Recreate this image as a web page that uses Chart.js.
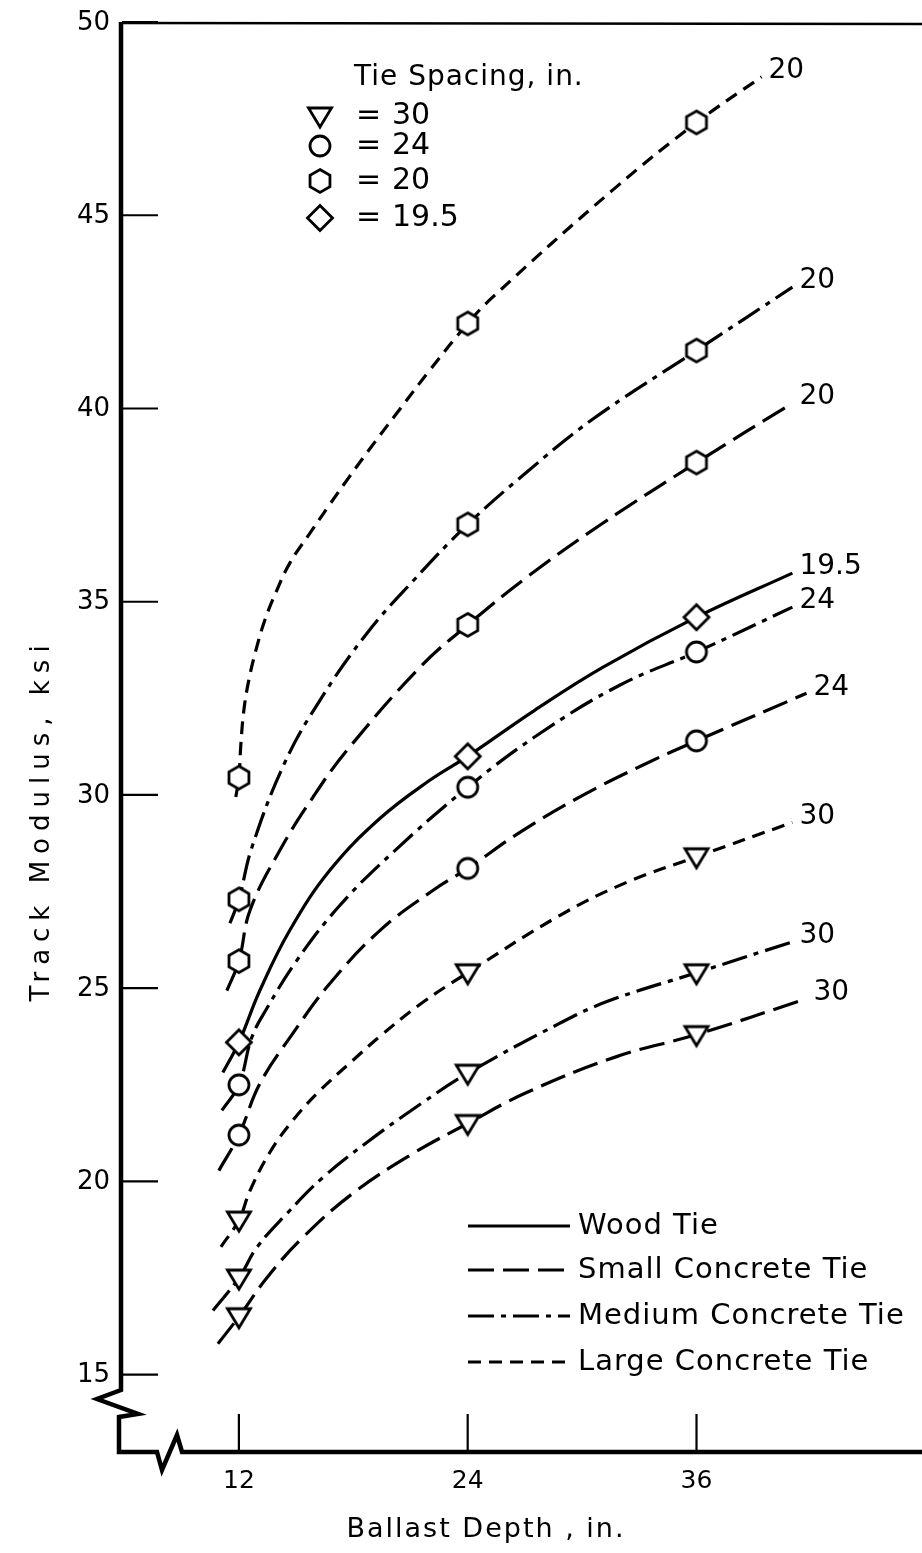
<!DOCTYPE html>
<html>
<head>
<meta charset="utf-8">
<title>Track Modulus vs Ballast Depth</title>
<script src="https://cdn.jsdelivr.net/npm/chart.js@4.4.0/dist/chart.umd.min.js"></script>
<style>
  html, body { margin: 0; padding: 0; background: #fff; }
  #chart { display: block; }
</style>
</head>
<body>
<canvas id="chart" width="922" height="1553"></canvas>
<script>
const depthTicks = [12, 24, 36];
const modulusTicks = [15, 20, 25, 30, 35, 40, 45, 50];

// plotted test points at 12, 24 and 36 in. of ballast (ksi)
const large20Points = [30.45, 42.2, 47.4];
const medium20Points = [27.3, 37.0, 41.5];
const small20Points = [25.7, 34.4, 38.6];
const wood195Points = [23.6, 31.0, 34.6];
const medium24Points = [22.5, 30.2, 33.7];
const small24Points = [21.2, 28.1, 31.4];
const large30Points = [19.0, 25.4, 28.4];
const medium30Points = [17.5, 22.8, 25.4];
const small30Points = [16.5, 21.5, 23.8];

// faired curves: [depth in., modulus ksi]
const large20Curve = [[11.84, 29.95], [12, 30.45], [12.1, 31.28], [12.26, 32.19], [12.52, 32.97], [12.89, 33.74], [13.36, 34.52], [13.94, 35.24], [14.67, 36.0], [15.72, 36.77], [16.77, 37.52], [17.82, 38.25], [19.13, 39.13], [20.44, 39.98], [22.01, 40.99], [24, 42.2], [25.31, 42.88], [31.6, 45.65], [36, 47.4], [39.41, 48.58]];
const medium20Curve = [[11.53, 26.68], [12, 27.3], [12.68, 28.64], [14.41, 30.84], [16.25, 32.45], [18.71, 34.18], [21.12, 35.53], [24, 37.0], [27.09, 38.35], [30.55, 39.72], [36, 41.5], [41.03, 43.14]];
const small20Curve = [[11.37, 24.94], [12, 25.7], [12.58, 27.01], [14.15, 28.57], [15.88, 29.94], [17.66, 31.15], [21.49, 33.3], [24, 34.4], [27.09, 35.63], [31.08, 37.03], [36, 38.6], [41.03, 40.14]];
const wood195Curve = [[11.16, 22.82], [12, 23.6], [13.1, 24.94], [14.67, 26.5], [16.77, 28.05], [19.39, 29.39], [22.01, 30.38], [24, 31.0], [27.51, 32.19], [31.08, 33.3], [36, 34.6], [41.03, 35.74]];
const medium24Curve = [[11.11, 21.84], [12, 22.5], [12.68, 23.73], [13.47, 24.48], [15.04, 25.72], [17.29, 27.14], [20.07, 28.51], [24, 30.2], [27.78, 31.59], [31.97, 32.84], [36, 33.7], [41.03, 34.86]];
const small24Curve = [[10.95, 20.28], [12, 21.2], [13.1, 22.53], [14.83, 23.83], [16.77, 25.12], [19.39, 26.49], [22.17, 27.53], [24, 28.1], [26.88, 29.08], [30.03, 29.99], [33.17, 30.77], [36, 31.4], [41.77, 32.63]];
const large30Curve = [[11.06, 18.31], [12, 19.0], [12.58, 19.76], [13.62, 20.75], [14.83, 21.58], [16.25, 22.35], [17.97, 23.13], [19.39, 23.75], [21.49, 24.58], [24, 25.4], [28.82, 26.88], [32.34, 27.74], [36, 28.4], [41.03, 29.29]];
const medium30Curve = [[10.64, 16.66], [12, 17.5], [12.94, 18.29], [14.52, 19.17], [16.4, 20.1], [18.71, 21.01], [21.49, 21.99], [24, 22.8], [28.82, 24.09], [31.44, 24.68], [36, 25.4], [41.03, 26.2]];
const small30Curve = [[10.9, 15.8], [12, 16.5], [13.47, 17.51], [15.35, 18.55], [17.97, 19.69], [21.12, 20.72], [24, 21.5], [27.09, 22.3], [31.81, 23.23], [36, 23.8], [41.77, 24.73]];

const font = 'DejaVu Sans';

const tieDash = {
  wood: [],
  small: [26, 9],
  medium: [26, 7, 5, 7],
  large: [13, 8]
};

function makeMarker(kind) {
  const c = document.createElement('canvas');
  c.width = 32; c.height = 32;
  const g = c.getContext('2d');
  const cx = 16, cy = 16;
  g.lineWidth = 2.8; g.strokeStyle = '#000'; g.fillStyle = '#fff';
  g.beginPath();
  if (kind === 'triangle') {
    g.moveTo(cx - 11.5, cy - 8); g.lineTo(cx + 11.5, cy - 8); g.lineTo(cx, cy + 11); g.closePath();
  } else if (kind === 'circle') {
    g.arc(cx, cy, 10, 0, Math.PI * 2);
  } else if (kind === 'hexagon') {
    for (let k = 0; k < 6; k++) {
      const ang = -Math.PI / 2 + k * Math.PI / 3;
      const px = cx + 11.5 * Math.cos(ang), py = cy + 11.5 * Math.sin(ang);
      if (k) g.lineTo(px, py); else g.moveTo(px, py);
    }
    g.closePath();
  } else {
    g.moveTo(cx, cy - 12.5); g.lineTo(cx + 12.5, cy); g.lineTo(cx, cy + 12.5); g.lineTo(cx - 12.5, cy); g.closePath();
  }
  g.fill(); g.stroke();
  return c;
}

const markers = {
  triangle: makeMarker('triangle'),
  circle: makeMarker('circle'),
  hexagon: makeMarker('hexagon'),
  diamond: makeMarker('diamond')
};

const curves = [
  { spacing: '20', marker: 'hexagon', dash: tieDash.large, points: large20Points, curve: large20Curve },
  { spacing: '20', marker: 'hexagon', dash: tieDash.medium, points: medium20Points, curve: medium20Curve },
  { spacing: '20', marker: 'hexagon', dash: tieDash.small, points: small20Points, curve: small20Curve },
  { spacing: '19.5', marker: 'diamond', dash: tieDash.wood, points: wood195Points, curve: wood195Curve },
  { spacing: '24', marker: 'circle', dash: tieDash.medium, points: medium24Points, curve: medium24Curve },
  { spacing: '24', marker: 'circle', dash: tieDash.small, points: small24Points, curve: small24Curve },
  { spacing: '30', marker: 'triangle', dash: tieDash.large, points: large30Points, curve: large30Curve },
  { spacing: '30', marker: 'triangle', dash: tieDash.medium, points: medium30Points, curve: medium30Curve },
  { spacing: '30', marker: 'triangle', dash: tieDash.small, points: small30Points, curve: small30Curve }
];

const datasets = [];
curves.forEach(function (c) {
  datasets.push({
    label: 'curve ' + c.spacing,
    data: c.curve.map(p => ({ x: p[0], y: p[1] })),
    borderColor: '#000',
    borderWidth: 3.2,
    borderDash: c.dash,
    pointRadius: 0,
    tension: 0.4,
    fill: false,
    order: 1,
    endLabel: c.spacing
  });
  datasets.push({
    label: 'points ' + c.spacing,
    data: c.points.map((v, i) => ({ x: depthTicks[i], y: v })),
    showLine: false,
    pointStyle: markers[c.marker],
    pointRadius: 10,
    order: 0
  });
});

const spacingLegend = [
  { marker: 'triangle', text: '30' },
  { marker: 'circle', text: '24' },
  { marker: 'hexagon', text: '20' },
  { marker: 'diamond', text: '19.5' }
];
const tieLegend = [
  { dash: tieDash.wood, text: 'Wood Tie' },
  { dash: tieDash.small, text: 'Small Concrete Tie' },
  { dash: tieDash.medium, text: 'Medium Concrete Tie' },
  { dash: tieDash.large, text: 'Large Concrete Tie' }
];

function strokeLine(ctx, x1, y1, x2, y2) {
  ctx.beginPath(); ctx.moveTo(x1, y1); ctx.lineTo(x2, y2); ctx.stroke();
}

function spacing(ctx, px) {
  if ('letterSpacing' in ctx) ctx.letterSpacing = px + 'px';
}

const paperPlugin = {
  id: 'paper',
  beforeDatasetsDraw(chart) {
    const { ctx, chartArea: a, scales: { x, y } } = chart;
    const right = chart.width;
    ctx.save();
    ctx.strokeStyle = '#000';
    ctx.fillStyle = '#000';
    ctx.lineJoin = 'miter';
    // top frame line
    ctx.lineWidth = 2.5;
    strokeLine(ctx, a.left, a.top + 1, right, a.top + 2);
    // left + bottom axes with breaks
    ctx.lineWidth = 4.5;
    const yb = a.bottom - 62;
    ctx.beginPath();
    ctx.moveTo(a.left - 1, a.top);
    ctx.lineTo(a.left - 1, yb);
    ctx.lineTo(a.left - 25, yb + 9);
    ctx.lineTo(a.left + 16, yb + 24);
    ctx.lineTo(a.left - 3, yb + 27);
    ctx.lineTo(a.left - 3, a.bottom);
    ctx.lineTo(a.left + 35, a.bottom);
    ctx.lineTo(a.left + 40, a.bottom + 18);
    ctx.lineTo(a.left + 55, a.bottom - 17);
    ctx.lineTo(a.left + 60, a.bottom);
    ctx.lineTo(right, a.bottom);
    ctx.stroke();
    // inward ticks and their labels
    ctx.lineWidth = 2.2;
    ctx.font = '26px "' + font + '"';
    ctx.textAlign = 'right';
    ctx.textBaseline = 'middle';
    modulusTicks.forEach(function (v) {
      const py = y.getPixelForValue(v);
      strokeLine(ctx, a.left, py, a.left + 36, py);
      ctx.fillText(String(v), a.left - 12, py + 1);
    });
    ctx.font = '25px "' + font + '"';
    ctx.textAlign = 'center';
    ctx.textBaseline = 'top';
    depthTicks.forEach(function (v) {
      const px = x.getPixelForValue(v);
      strokeLine(ctx, px, a.bottom, px, a.bottom - 38);
      ctx.fillText(String(v), px, a.bottom + 17);
    });
    ctx.restore();
  },
  afterDatasetsDraw(chart) {
    const { ctx } = chart;
    ctx.save();
    ctx.fillStyle = '#000';
    ctx.strokeStyle = '#000';

    // spacing label at the end of each curve
    ctx.font = '28px "' + font + '"';
    ctx.textAlign = 'left';
    ctx.textBaseline = 'middle';
    chart.data.datasets.forEach(function (ds, i) {
      if (!ds.endLabel) return;
      const pts = chart.getDatasetMeta(i).data;
      const last = pts[pts.length - 1];
      ctx.fillText(ds.endLabel, last.x + 7, last.y - 6);
    });

    // tie spacing key
    ctx.font = '28px "' + font + '"';
    spacing(ctx, 1);
    ctx.fillText('Tie Spacing, in.', 354, 78);
    spacing(ctx, 0);
    const keyRows = [116, 146, 181, 218];
    ctx.font = '30px "' + font + '"';
    spacingLegend.forEach(function (item, i) {
      const m = markers[item.marker];
      ctx.drawImage(m, 320 - m.width / 2, keyRows[i] - m.height / 2);
      ctx.fillText('=', 356, keyRows[i]);
      ctx.fillText(item.text, 392, keyRows[i]);
    });

    // line style key
    const tieRows = [1226, 1270, 1316, 1362];
    ctx.font = '29px "' + font + '"';
    spacing(ctx, 1);
    tieLegend.forEach(function (item, i) {
      ctx.lineWidth = 3;
      ctx.setLineDash(item.dash);
      strokeLine(ctx, 468, tieRows[i], 570, tieRows[i]);
      ctx.setLineDash([]);
      ctx.fillText(item.text, 578, tieRows[i]);
    });

    // axis titles
    ctx.textAlign = 'center';
    ctx.font = '27px "' + font + '"';
    spacing(ctx, 2);
    ctx.fillText('Ballast Depth , in.', 486, 1530);
    ctx.translate(42, 820);
    ctx.rotate(-Math.PI / 2);
    ctx.font = '26px "' + font + '"';
    spacing(ctx, 7);
    ctx.fillText('Track Modulus, ksi', 0, 0);
    ctx.restore();
  }
};

new Chart(document.getElementById('chart'), {
  type: 'line',
  data: { datasets: datasets },
  options: {
    responsive: false,
    animation: false,
    devicePixelRatio: 1,
    layout: { padding: { top: 22, right: 0, left: 0, bottom: 0 } },
    plugins: { legend: { display: false }, tooltip: { enabled: false } },
    scales: {
      x: {
        type: 'linear',
        min: 5.87,
        max: 47.25,
        afterFit: s => { s.height = 101; },
        grid: { display: false, drawTicks: false },
        border: { display: false },
        ticks: { display: false }
      },
      y: {
        type: 'linear',
        min: 13,
        max: 50,
        afterFit: s => { s.width = 122; },
        grid: { display: false, drawTicks: false },
        border: { display: false },
        ticks: { display: false }
      }
    }
  },
  plugins: [paperPlugin]
});
</script>
</body>
</html>
